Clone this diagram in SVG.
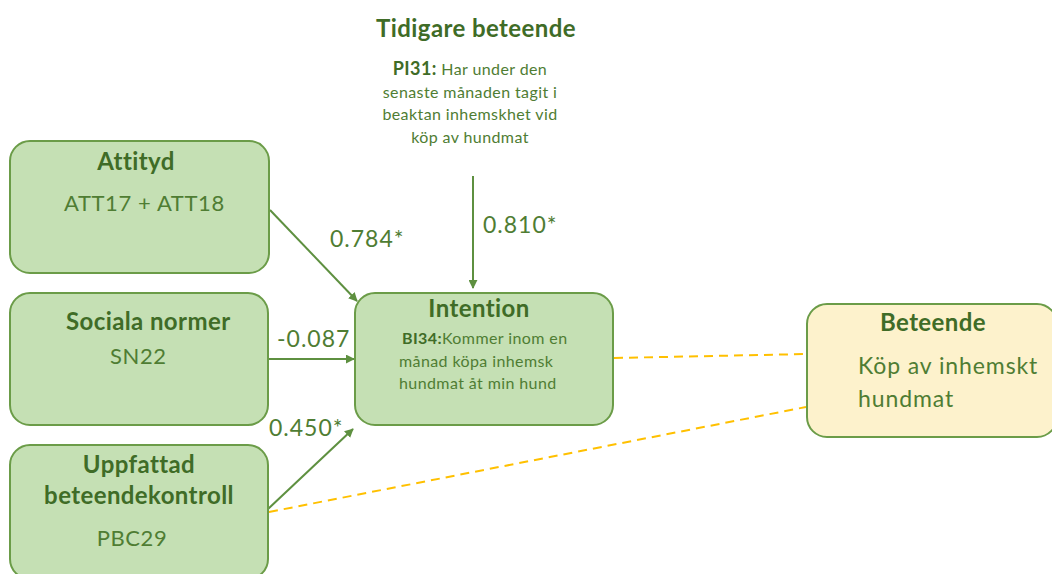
<svg xmlns="http://www.w3.org/2000/svg" width="1052" height="574" viewBox="0 0 1052 574">
  <defs>
    <marker id="arrow" viewBox="0 0 10 10" refX="9" refY="5" markerWidth="9" markerHeight="9" markerUnits="userSpaceOnUse" orient="auto">
      <path d="M0,0 L10,5 L0,10 z" fill="#5e9040"/>
    </marker>
    <style>
      text { font-family: Lato, "Liberation Sans", sans-serif; fill: #4f7d33; }
      .title { font-weight: bold; fill: #3f6c27; font-size: 24px; letter-spacing: 0.4px; }
      .body { font-size: 22px; letter-spacing: 0.6px; }
      .bodyr { font-size: 23px; letter-spacing: 0.9px; }
      .small { font-size: 16px; letter-spacing: 0.4px; }
      .smallb { font-weight: bold; fill: #3f6c27; }
      .coef { font-size: 23px; letter-spacing: 1px; fill: #4f7d33; }
      .box { fill: #c5e0b4; stroke: #6b9c48; stroke-width: 2; }
      .outbox { fill: #fdf2cc; stroke: #6b9c48; stroke-width: 2; }
      .edge { stroke: #5e9040; stroke-width: 2; fill: none; marker-end: url(#arrow); }
      .dash { stroke: #ffc000; stroke-width: 2; stroke-dasharray: 9 6; fill: none; }
    </style>
  </defs>
  <rect width="1052" height="574" fill="#ffffff"/>

  <!-- Connectors -->
  <g id="connectors">
    <line class="edge" x1="270" y1="210" x2="357" y2="301"/>
    <line class="edge" x1="473" y1="176" x2="473" y2="288"/>
    <line class="edge" x1="268" y1="359" x2="354" y2="359"/>
    <line class="edge" x1="268" y1="509" x2="353" y2="429"/>
    <line class="dash" x1="614" y1="358" x2="806" y2="354"/>
    <line class="dash" x1="269" y1="512" x2="806" y2="407"/>
    <text class="coef" x="330" y="247">0.784*</text>
    <text class="coef" x="483" y="233">0.810*</text>
    <text class="coef" x="277" y="347">-0.087</text>
    <text class="coef" x="269" y="436">0.450*</text>
  </g>

  <!-- Prior behaviour (text only) -->
  <g id="tidigare">
    <text class="title" x="476" y="37" text-anchor="middle">Tidigare beteende</text>
    <text x="470" y="75" text-anchor="middle" class="small"><tspan class="smallb" font-size="18">PI31:</tspan> Har under den</text>
    <text x="470" y="98" text-anchor="middle" class="small">senaste månaden tagit i</text>
    <text x="470" y="120" text-anchor="middle" class="small">beaktan inhemskhet vid</text>
    <text x="470" y="143" text-anchor="middle" class="small">köp av hundmat</text>
  </g>

  <g id="attityd">
    <rect class="box" x="10" y="141" width="259" height="132" rx="20"/>
    <text class="title" x="136" y="170" text-anchor="middle">Attityd</text>
    <text class="body" x="64" y="211">ATT17 + ATT18</text>
  </g>

  <g id="sociala">
    <rect class="box" x="10" y="293" width="258" height="132" rx="20"/>
    <text class="title" x="66" y="330">Sociala normer</text>
    <text class="body" x="110" y="364">SN22</text>
  </g>

  <g id="uppfattad">
    <rect class="box" x="10" y="445" width="258" height="134" rx="20"/>
    <text class="title" x="139" y="473" text-anchor="middle">Uppfattad</text>
    <text class="title" x="139" y="504" text-anchor="middle">beteendekontroll</text>
    <text class="body" x="132" y="546" text-anchor="middle">PBC29</text>
  </g>

  <g id="intention">
    <rect class="box" x="355" y="293" width="258" height="132" rx="20"/>
    <text class="title" x="479" y="317" text-anchor="middle">Intention</text>
    <text x="402" y="344" class="small" letter-spacing="0.6"><tspan class="smallb">BI34:</tspan>Kommer inom en</text>
    <text x="399" y="367" class="small">månad köpa inhemsk</text>
    <text x="399" y="389" class="small">hundmat åt min hund</text>
  </g>

  <g id="beteende">
    <rect class="outbox" x="807" y="304" width="250" height="133" rx="20"/>
    <text class="title" x="880" y="331">Beteende</text>
    <text class="bodyr" x="858" y="374">Köp av inhemskt</text>
    <text class="bodyr" x="858" y="407">hundmat</text>
  </g>
</svg>
